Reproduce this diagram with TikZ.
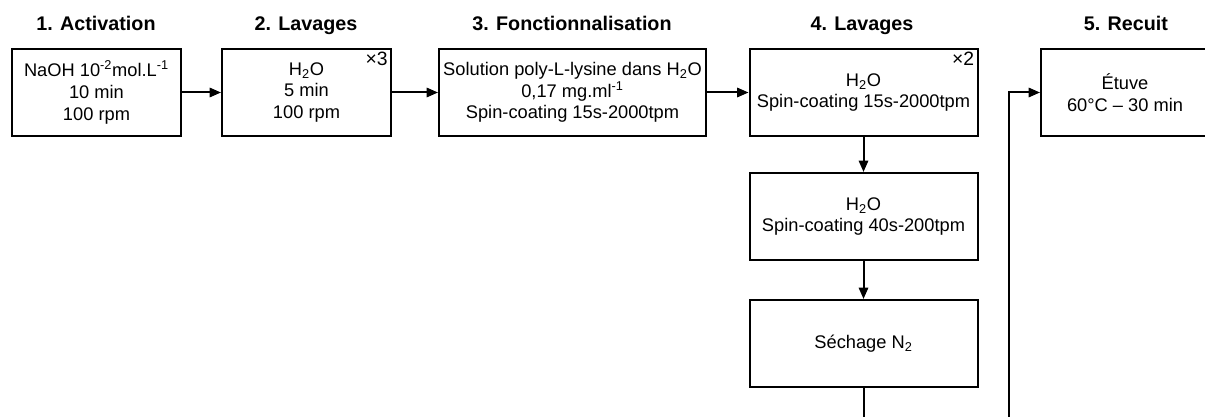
\documentclass[tikz,border=0pt]{standalone}
\usepackage{fontspec}
\setmainfont{Liberation Sans}
\usetikzlibrary{arrows.meta}

\begin{document}
\begin{tikzpicture}[x=0.75pt,y=-0.75pt,
  every node/.style={font=\fontsize{13.7}{16.2}\selectfont},
  etape/.style={draw,line width=1.5pt,align=center,minimum height=65.25pt,inner sep=0pt},
  titre/.style={font=\fontsize{14.8}{17}\selectfont\bfseries,anchor=base},
  fois/.style={anchor=north east,inner sep=3pt,font=\fontsize{14.5}{16}\selectfont},
  trait/.style={line width=1.5pt},
  fleche/.style={trait,-{Triangle[length=8.5pt,width=7pt]}}]
\useasboundingbox (0,0) rectangle (1205,417);
\foreach \x/\t in {96/1. Activation,306/2. Lavages,572/3. Fonctionnalisation,862/4. Lavages,1126/5. Recuit}
    \node[titre] (titre\x) at (\x,30.5) {\t};
\node[etape,minimum width=126.75pt] (activation) at (96.5,92.5) {NaOH 10\textsuperscript{-2}mol.L\textsuperscript{-1}\\10 min\\100 rpm};
\node[etape,minimum width=126.75pt] (lavage1) at (306.5,92.5) {H\textsubscript{2}O\\5 min\\100 rpm};
\node[etape,minimum width=200.25pt] (fonction) at (572.5,92.5) {Solution poly-L-lysine dans H\textsubscript{2}O\\0,17 mg.ml\textsuperscript{-1}\\Spin-coating 15s-2000tpm};
\node[etape,minimum width=171pt] (lavage2) at (863.5,92.5) {H\textsubscript{2}O\\Spin-coating 15s-2000tpm};
\node[etape,minimum width=171pt] (rincage) at (863.5,216.5) {H\textsubscript{2}O\\Spin-coating 40s-200tpm};
\node[etape,minimum width=171pt] (sechage) at (863.5,343.5) {Séchage N\textsubscript{2}};
\node[etape,minimum width=126pt] (etuve) at (1125,92.5) {Étuve\\60°C – 30 min};
\node[fois] (fois3) at (lavage1.north east) {×3};
\node[fois] (fois2) at (lavage2.north east) {×2};
% liaisons
\draw[fleche] (activation) -- (lavage1);
\draw[fleche] (lavage1) -- (fonction);
\draw[fleche] (fonction) -- (lavage2);
\draw[fleche] (lavage2) -- (rincage);
\draw[fleche] (rincage) -- (sechage);
\coordinate (bas1) at (863.5,422);
\coordinate (bas2) at (1009,422);
\draw[trait] (sechage) -- (bas1);
\draw[fleche] (bas2) |- (etuve.west);
\end{tikzpicture}
\end{document}
